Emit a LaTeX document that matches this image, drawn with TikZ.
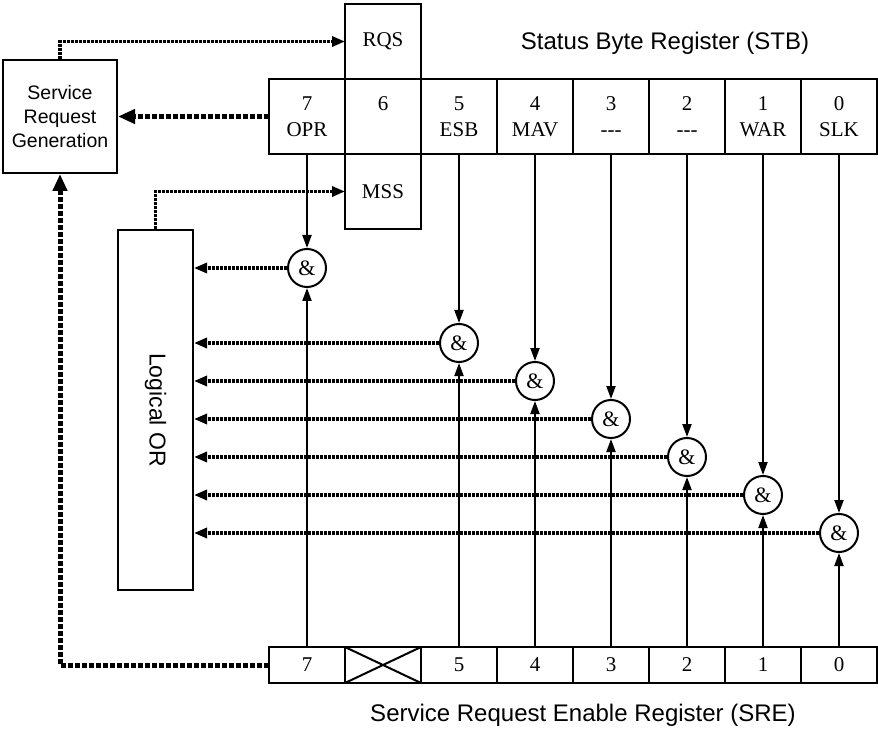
\documentclass[tikz,border=0pt]{standalone}
\usepackage{fontspec}
\setmainfont{Liberation Serif}
\setsansfont{Liberation Sans}
\usetikzlibrary{arrows.meta, positioning}
\tikzset{
  cell/.style={
    rectangle,
    draw,
    line width=2pt,
    align=center,
    minimum width=76pt,
    minimum height=75pt,
    inner sep=0pt,
    outer sep=0pt,
    font=\fontsize{21}{26}\selectfont
  },
  enable/.style={
    cell,
    minimum height=36pt
  },
  gate/.style={
    circle,
    draw,
    line width=2pt,
    minimum size=38pt,
    inner sep=0pt,
    font=\fontsize{22}{24}\selectfont
  },
  block/.style={
    rectangle,
    draw,
    line width=2pt,
    align=center,
    inner sep=0pt,
    font=\sffamily\fontsize{19.5}{24}\selectfont
  },
  regtitle/.style={font=\sffamily\fontsize{24}{28}\selectfont},
  arrow/.style={-{Triangle[length=13pt,width=9pt]}, line width=2pt},
  dottedarrow/.style={-{Triangle[length=13pt,width=10pt]}, line width=3.5pt, dash pattern=on 3pt off 1pt},
  dashedarrow/.style={-{Triangle[length=17pt,width=14pt]}, line width=5pt, dash pattern=on 5pt off 2pt}
}
\begin{document}
\begin{tikzpicture}[x=1pt, y=-1pt]
  \useasboundingbox (0,0) rectangle (878,735);
  \node[cell] (stb7) at (307,116.5) {7\\OPR};
  \node[cell, right=0pt of stb7] (stb6) {6\\\phantom{OPR}};
  \node[cell, right=0pt of stb6] (stb5) {5\\ESB};
  \node[cell, right=0pt of stb5] (stb4) {4\\MAV};
  \node[cell, right=0pt of stb4] (stb3) {3\\-{}-{}-};
  \node[cell, right=0pt of stb3] (stb2) {2\\-{}-{}-};
  \node[cell, right=0pt of stb2] (stb1) {1\\WAR};
  \node[cell, right=0pt of stb1] (stb0) {0\\SLK};
  \node[cell, above=0pt of stb6] (rqs) {RQS};
  \node[cell, below=0pt of stb6] (mss) {MSS};
  \node[regtitle] (stbname) at (665,43) {Status Byte Register (STB)};

  \node[enable] (sre7) at (307,665) {7};
  \node[enable, right=0pt of sre7] (sre6) {};
  \node[enable, right=0pt of sre6] (sre5) {5};
  \node[enable, right=0pt of sre5] (sre4) {4};
  \node[enable, right=0pt of sre4] (sre3) {3};
  \node[enable, right=0pt of sre3] (sre2) {2};
  \node[enable, right=0pt of sre2] (sre1) {1};
  \node[enable, right=0pt of sre1] (sre0) {0};
  \draw[line width=2pt] (sre6.north west) -- (sre6.south east) (sre6.south west) -- (sre6.north east);
  \node[regtitle] (srename) at (583,715) {Service Request Enable Register (SRE)};

  \node[block, minimum width=114pt, minimum height=113pt] (srg) at (60,116.5) {Service\\Request\\Generation};
  \node[block, minimum width=75pt, minimum height=360pt, font=\sffamily\fontsize{23}{28}\selectfont] (lor) at (155.5,410) {\rotatebox{-90}{Logical OR}};

  \node[gate] (and7) at (stb7 |- 0,268) {\&};
  \node[gate] (and5) at (stb5 |- 0,343) {\&};
  \node[gate] (and4) at (stb4 |- 0,381) {\&};
  \node[gate] (and3) at (stb3 |- 0,419) {\&};
  \node[gate] (and2) at (stb2 |- 0,457) {\&};
  \node[gate] (and1) at (stb1 |- 0,495) {\&};
  \node[gate] (and0) at (stb0 |- 0,533) {\&};

  \draw[arrow] (stb7) -- (and7);
  \draw[arrow] (stb5) -- (and5);
  \draw[arrow] (stb4) -- (and4);
  \draw[arrow] (stb3) -- (and3);
  \draw[arrow] (stb2) -- (and2);
  \draw[arrow] (stb1) -- (and1);
  \draw[arrow] (stb0) -- (and0);
  \draw[arrow] (sre7) -- (and7);
  \draw[arrow] (sre5) -- (and5);
  \draw[arrow] (sre4) -- (and4);
  \draw[arrow] (sre3) -- (and3);
  \draw[arrow] (sre2) -- (and2);
  \draw[arrow] (sre1) -- (and1);
  \draw[arrow] (sre0) -- (and0);

  \draw[dottedarrow] (and7) -- (and7 -| lor.east);
  \draw[dottedarrow] (and5) -- (and5 -| lor.east);
  \draw[dottedarrow] (and4) -- (and4 -| lor.east);
  \draw[dottedarrow] (and3) -- (and3 -| lor.east);
  \draw[dottedarrow] (and2) -- (and2 -| lor.east);
  \draw[dottedarrow] (and1) -- (and1 -| lor.east);
  \draw[dottedarrow] (and0) -- (and0 -| lor.east);

  \draw[dottedarrow] (srg) |- (rqs);
  \draw[dottedarrow] (lor) |- (mss);
  \draw[dashedarrow] (stb7) -- (srg);
  \draw[dashedarrow] (sre7) -| (srg);
\end{tikzpicture}
\end{document}
